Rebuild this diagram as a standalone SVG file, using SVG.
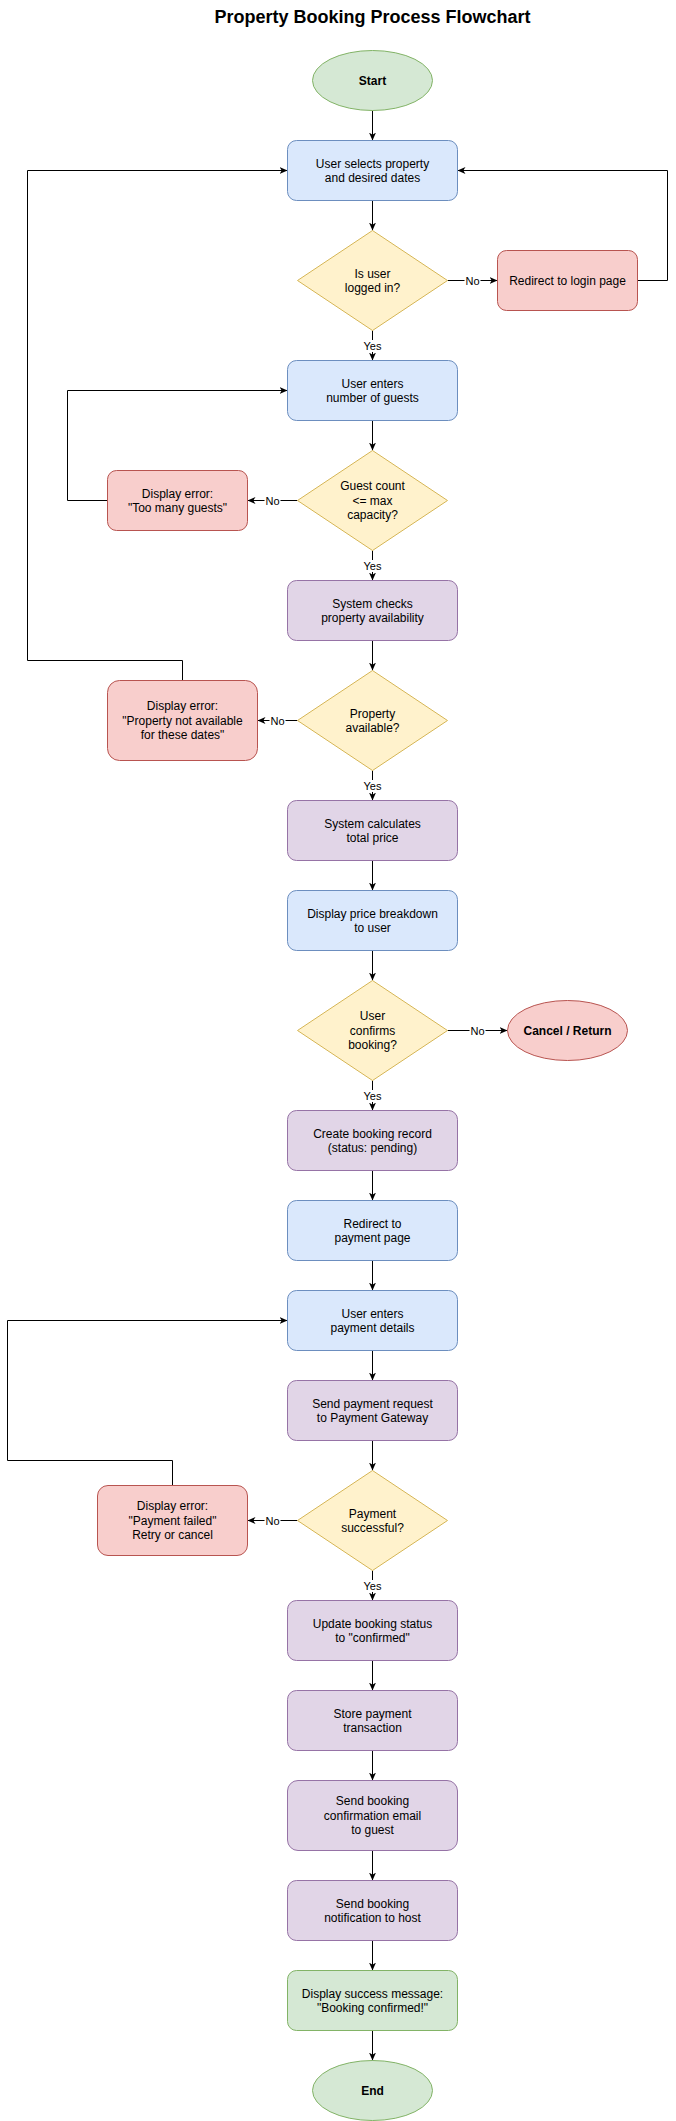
<svg xmlns="http://www.w3.org/2000/svg" width="676" height="2121" viewBox="0 0 676 2121">
<style>
text{font-family:"Liberation Sans",Arial,Helvetica,sans-serif;font-size:12px;fill:#000;text-anchor:middle}
.title{font-size:18px;font-weight:bold}
.b{font-weight:bold}
.lbl{font-size:11px}
.blue{fill:#dae8fc;stroke:#6c8ebf;stroke-width:1}
.purple{fill:#e1d5e7;stroke:#9673a6;stroke-width:1}
.yellow{fill:#fff2cc;stroke:#d6b656;stroke-width:1}
.red{fill:#f8cecc;stroke:#b85450;stroke-width:1}
.green{fill:#d5e8d4;stroke:#82b366;stroke-width:1}
.edge{fill:none;stroke:#000;stroke-width:1;marker-end:url(#arr)}
.lbg{fill:#fff;stroke:none}
</style>
<defs>
<marker id="arr" markerWidth="10" markerHeight="10" refX="8" refY="4" orient="auto" markerUnits="userSpaceOnUse">
<path d="M0,0.5 L8,4 L0,7.5 L2.2,4 Z" fill="#000"/>
</marker>
</defs>
<rect width="676" height="2121" fill="#fff"/>
<text class="title" x="372.5" y="23">Property Booking Process Flowchart</text>

<g id="connectors">
<path class="edge" d="M372.5,110.5 V140.5"/>
<path class="edge" d="M372.5,200.5 V230.5"/>
<path class="edge" d="M447.5,280.5 H497.5"/>
<path class="edge" d="M637.5,280.5 H667.5 V170.5 H457.5"/>
<path class="edge" d="M372.5,330.5 V360.5"/>
<path class="edge" d="M372.5,420.5 V450.5"/>
<path class="edge" d="M297.5,500.5 H247.5"/>
<path class="edge" d="M107.5,500.5 H67.5 V390.5 H287.5"/>
<path class="edge" d="M372.5,550.5 V580.5"/>
<path class="edge" d="M372.5,640.5 V670.5"/>
<path class="edge" d="M297.5,720.5 H257.5"/>
<path class="edge" d="M182.5,680.5 V660.5 H27.5 V170.5 H287.5"/>
<path class="edge" d="M372.5,770.5 V800.5"/>
<path class="edge" d="M372.5,860.5 V890.5"/>
<path class="edge" d="M372.5,950.5 V980.5"/>
<path class="edge" d="M447.5,1030.5 H507.5"/>
<path class="edge" d="M372.5,1080.5 V1110.5"/>
<path class="edge" d="M372.5,1170.5 V1200.5"/>
<path class="edge" d="M372.5,1260.5 V1290.5"/>
<path class="edge" d="M372.5,1350.5 V1380.5"/>
<path class="edge" d="M372.5,1440.5 V1470.5"/>
<path class="edge" d="M297.5,1520.5 H247.5"/>
<path class="edge" d="M172.5,1485.5 V1460.5 H7.5 V1320.5 H287.5"/>
<path class="edge" d="M372.5,1570.5 V1600.5"/>
<path class="edge" d="M372.5,1660.5 V1690.5"/>
<path class="edge" d="M372.5,1750.5 V1780.5"/>
<path class="edge" d="M372.5,1850.5 V1880.5"/>
<path class="edge" d="M372.5,1940.5 V1970.5"/>
<path class="edge" d="M372.5,2030.5 V2060.5"/>
<!-- labels -->
<rect class="lbg" x="362" y="340" width="21" height="12"/><text class="lbl" x="372.5" y="350">Yes</text>
<rect class="lbg" x="464.5" y="275" width="16" height="12"/><text class="lbl" x="472.5" y="285">No</text>
<rect class="lbg" x="362" y="560" width="21" height="12"/><text class="lbl" x="372.5" y="570">Yes</text>
<rect class="lbg" x="264.5" y="495" width="16" height="12"/><text class="lbl" x="272.5" y="505">No</text>
<rect class="lbg" x="362" y="780" width="21" height="12"/><text class="lbl" x="372.5" y="790">Yes</text>
<rect class="lbg" x="269.5" y="715" width="16" height="12"/><text class="lbl" x="277.5" y="725">No</text>
<rect class="lbg" x="469.5" y="1025" width="16" height="12"/><text class="lbl" x="477.5" y="1035">No</text>
<rect class="lbg" x="362" y="1090" width="21" height="12"/><text class="lbl" x="372.5" y="1100">Yes</text>
<rect class="lbg" x="264.5" y="1515" width="16" height="12"/><text class="lbl" x="272.5" y="1525">No</text>
<rect class="lbg" x="362" y="1580" width="21" height="12"/><text class="lbl" x="372.5" y="1590">Yes</text>
</g>

<g id="start"><ellipse class="green" cx="372.5" cy="80.5" rx="60" ry="30"/><text class="b" x="372.5" y="84.7">Start</text></g>
<g id="n1"><rect class="blue" x="287.5" y="140.5" width="170" height="60" rx="9"/><text x="372.5" y="167.5">User selects property</text><text x="372.5" y="181.9">and desired dates</text></g>
<g id="d1"><polygon class="yellow" points="372.5,230.5 447.5,280.5 372.5,330.5 297.5,280.5"/><text x="372.5" y="277.5">Is user</text><text x="372.5" y="291.9">logged in?</text></g>
<g id="redirect"><rect class="red" x="497.5" y="250.5" width="140" height="60" rx="9"/><text x="567.5" y="284.7">Redirect to login page</text></g>
<g id="n2"><rect class="blue" x="287.5" y="360.5" width="170" height="60" rx="9"/><text x="372.5" y="387.5">User enters</text><text x="372.5" y="401.9">number of guests</text></g>
<g id="d2"><polygon class="yellow" points="372.5,450.5 447.5,500.5 372.5,550.5 297.5,500.5"/><text x="372.5" y="490.3">Guest count</text><text x="372.5" y="504.7">&lt;= max</text><text x="372.5" y="519.1">capacity?</text></g>
<g id="err1"><rect class="red" x="107.5" y="470.5" width="140" height="60" rx="9"/><text x="177.5" y="497.5">Display error:</text><text x="177.5" y="511.9">"Too many guests"</text></g>
<g id="n3"><rect class="purple" x="287.5" y="580.5" width="170" height="60" rx="9"/><text x="372.5" y="607.5">System checks</text><text x="372.5" y="621.9">property availability</text></g>
<g id="d3"><polygon class="yellow" points="372.5,670.5 447.5,720.5 372.5,770.5 297.5,720.5"/><text x="372.5" y="717.5">Property</text><text x="372.5" y="731.9">available?</text></g>
<g id="err2"><rect class="red" x="107.5" y="680.5" width="150" height="80" rx="12"/><text x="182.5" y="710.3">Display error:</text><text x="182.5" y="724.7">"Property not available</text><text x="182.5" y="739.1">for these dates"</text></g>
<g id="n4"><rect class="purple" x="287.5" y="800.5" width="170" height="60" rx="9"/><text x="372.5" y="827.5">System calculates</text><text x="372.5" y="841.9">total price</text></g>
<g id="n5"><rect class="blue" x="287.5" y="890.5" width="170" height="60" rx="9"/><text x="372.5" y="917.5">Display price breakdown</text><text x="372.5" y="931.9">to user</text></g>
<g id="d4"><polygon class="yellow" points="372.5,980.5 447.5,1030.5 372.5,1080.5 297.5,1030.5"/><text x="372.5" y="1020.3">User</text><text x="372.5" y="1034.7">confirms</text><text x="372.5" y="1049.1">booking?</text></g>
<g id="cancel"><ellipse class="red" cx="567.5" cy="1030.5" rx="60" ry="30"/><text class="b" x="567.5" y="1034.7">Cancel / Return</text></g>
<g id="n6"><rect class="purple" x="287.5" y="1110.5" width="170" height="60" rx="9"/><text x="372.5" y="1137.5">Create booking record</text><text x="372.5" y="1151.9">(status: pending)</text></g>
<g id="n7"><rect class="blue" x="287.5" y="1200.5" width="170" height="60" rx="9"/><text x="372.5" y="1227.5">Redirect to</text><text x="372.5" y="1241.9">payment page</text></g>
<g id="n8"><rect class="blue" x="287.5" y="1290.5" width="170" height="60" rx="9"/><text x="372.5" y="1317.5">User enters</text><text x="372.5" y="1331.9">payment details</text></g>
<g id="n9"><rect class="purple" x="287.5" y="1380.5" width="170" height="60" rx="9"/><text x="372.5" y="1407.5">Send payment request</text><text x="372.5" y="1421.9">to Payment Gateway</text></g>
<g id="d5"><polygon class="yellow" points="372.5,1470.5 447.5,1520.5 372.5,1570.5 297.5,1520.5"/><text x="372.5" y="1517.5">Payment</text><text x="372.5" y="1531.9">successful?</text></g>
<g id="err3"><rect class="red" x="97.5" y="1485.5" width="150" height="70" rx="10.5"/><text x="172.5" y="1510.3">Display error:</text><text x="172.5" y="1524.7">"Payment failed"</text><text x="172.5" y="1539.1">Retry or cancel</text></g>
<g id="n10"><rect class="purple" x="287.5" y="1600.5" width="170" height="60" rx="9"/><text x="372.5" y="1627.5">Update booking status</text><text x="372.5" y="1641.9">to "confirmed"</text></g>
<g id="n11"><rect class="purple" x="287.5" y="1690.5" width="170" height="60" rx="9"/><text x="372.5" y="1717.5">Store payment</text><text x="372.5" y="1731.9">transaction</text></g>
<g id="n12"><rect class="purple" x="287.5" y="1780.5" width="170" height="70" rx="10.5"/><text x="372.5" y="1805.3">Send booking</text><text x="372.5" y="1819.7">confirmation email</text><text x="372.5" y="1834.1">to guest</text></g>
<g id="n13"><rect class="purple" x="287.5" y="1880.5" width="170" height="60" rx="9"/><text x="372.5" y="1907.5">Send booking</text><text x="372.5" y="1921.9">notification to host</text></g>
<g id="n14"><rect class="green" x="287.5" y="1970.5" width="170" height="60" rx="9"/><text x="372.5" y="1997.5">Display success message:</text><text x="372.5" y="2011.9">"Booking confirmed!"</text></g>
<g id="end"><ellipse class="green" cx="372.5" cy="2090.5" rx="60" ry="30"/><text class="b" x="372.5" y="2094.7">End</text></g>
</svg>
